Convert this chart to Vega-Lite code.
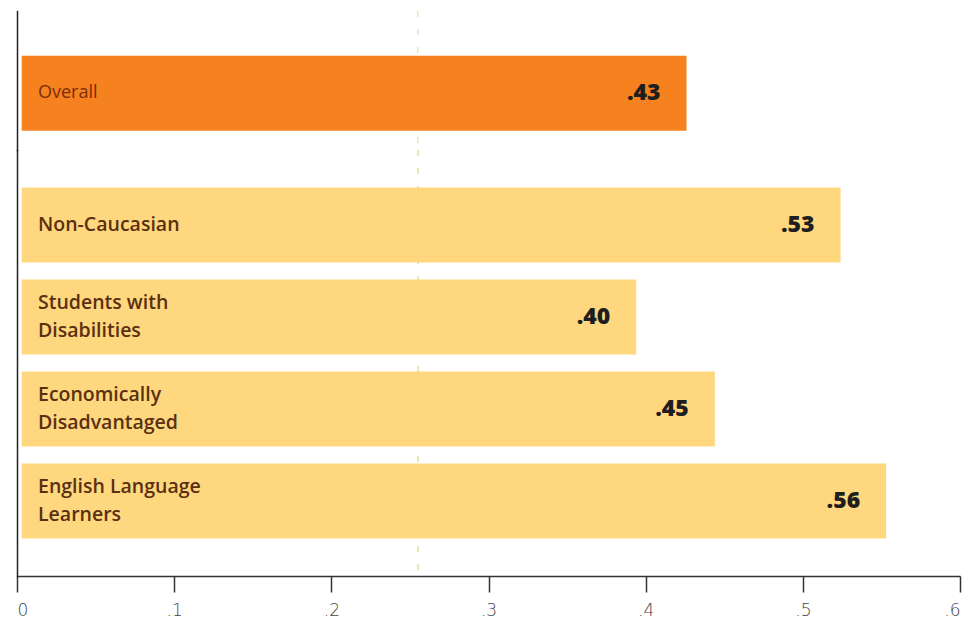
{
  "$schema": "https://vega.github.io/schema/vega-lite/v6.json",
  "padding": {"left": 16, "top": 10, "right": 5, "bottom": 0},
  "background": "white",
  "spacing": 0,
  "bounds": "flush",
  "config": {
    "view": {"stroke": null},
    "concat": {"spacing": 0}
  },
  "datasets": {
    "bars": [
      {"section": "top", "group": "Overall", "label": "Overall", "lines": 1, "value": 0.426, "text": ".43"},
      {"section": "bottom", "group": "Non-Caucasian", "label": "Non-Caucasian", "lines": 1, "value": 0.524, "text": ".53"},
      {"section": "bottom", "group": "Students with Disabilities", "label": "Students with\nDisabilities", "lines": 2, "value": 0.394, "text": ".40"},
      {"section": "bottom", "group": "Economically Disadvantaged", "label": "Economically\nDisadvantaged", "lines": 2, "value": 0.444, "text": ".45"},
      {"section": "bottom", "group": "English Language Learners", "label": "English Language\nLearners", "lines": 2, "value": 0.553, "text": ".56"}
    ]
  },
  "vconcat": [
    {
      "width": 943,
      "height": 139,
      "data": {"name": "bars"},
      "transform": [{"filter": "datum.section === 'top'"}],
      "layer": [
        {
          "mark": {"type": "rule", "color": "#e4ebb0", "strokeWidth": 1.5, "strokeDash": [6, 12]},
          "encoding": {"x": {"datum": 0.255, "type": "quantitative", "scale": {"domain": [0, 0.6], "nice": false}, "axis": null}}
        },
        {
          "mark": {"type": "bar", "color": "#f5811f"},
          "encoding": {
            "y": {"field": "group", "type": "nominal", "sort": null,
                  "scale": {"paddingInner": 0.185, "paddingOuter": 0.348, "align": 0.7},
                  "axis": {"title": null, "labels": false, "ticks": false, "domain": true, "domainColor": "#222", "domainWidth": 1.5, "domainCap": "square"}},
            "x": {"field": "value", "type": "quantitative", "scale": {"domain": [0, 0.6], "nice": false}, "axis": null},
            "x2": {"datum": 0.003}
          }
        },
        {
          "mark": {"type": "text", "align": "left", "baseline": "middle", "dx": 21, "font": "Open Sans", "fontSize": 18, "fontWeight": 400, "color": "#7a2e0c"},
          "encoding": {
            "y": {"field": "group", "type": "nominal", "sort": null},
            "x": {"datum": 0, "type": "quantitative"},
            "text": {"field": "label"}
          }
        },
        {
          "mark": {"type": "text", "align": "right", "baseline": "middle", "dx": -26, "font": "Open Sans", "fontSize": 23, "fontWeight": 800, "color": "#1e1e1e"},
          "encoding": {
            "y": {"field": "group", "type": "nominal", "sort": null},
            "x": {"field": "value", "type": "quantitative"},
            "text": {"field": "text"}
          }
        }
      ]
    },
    {
      "width": 943,
      "height": 426,
      "data": {"name": "bars"},
      "transform": [{"filter": "datum.section === 'bottom'"}],
      "layer": [
        {
          "mark": {"type": "rule", "color": "#e4ebb0", "strokeWidth": 1.5, "strokeDash": [6, 12]},
          "encoding": {"x": {"datum": 0.255, "type": "quantitative", "scale": {"domain": [0, 0.6], "nice": false},
            "axis": {"title": null, "values": [0, 0.1, 0.2, 0.3, 0.4, 0.5, 0.6], "labelExpr": "datum.value === 0 ? '0' : replace(format(datum.value, '.1f'), '0.', '.')",
                     "grid": false, "domainColor": "#333", "domainWidth": 1.5, "tickColor": "#333", "tickWidth": 1.5, "tickSize": 16,
                     "labelFont": "DejaVu Sans", "labelFontSize": 17, "labelColor": "#444", "labelPadding": 10, "labelFontWeight": 300}}}
        },
        {
          "mark": {"type": "bar", "color": "#fed77f"},
          "encoding": {
            "y": {"field": "group", "type": "nominal", "sort": null,
                  "scale": {"paddingInner": 0.185, "paddingOuter": 0.408},
                  "axis": {"title": null, "labels": false, "ticks": false, "domain": true, "domainColor": "#222", "domainWidth": 1.5, "domainCap": "square"}},
            "x": {"field": "value", "type": "quantitative"},
            "x2": {"datum": 0.003}
          }
        },
        {
          "transform": [{"filter": "datum.lines === 1"}],
          "mark": {"type": "text", "align": "left", "baseline": "middle", "dx": 21, "font": "Open Sans", "fontSize": 19.5, "fontWeight": 600, "color": "#5a3010"},
          "encoding": {
            "y": {"field": "group", "type": "nominal", "sort": null},
            "x": {"datum": 0, "type": "quantitative"},
            "text": {"field": "label"}
          }
        },
        {
          "transform": [{"filter": "datum.lines === 2"}],
          "mark": {"type": "text", "align": "left", "baseline": "middle", "dx": 21, "dy": -14, "font": "Open Sans", "fontSize": 19.5, "fontWeight": 600, "color": "#5a3010", "lineBreak": "\n", "lineHeight": 28},
          "encoding": {
            "y": {"field": "group", "type": "nominal", "sort": null},
            "x": {"datum": 0, "type": "quantitative"},
            "text": {"field": "label"}
          }
        },
        {
          "mark": {"type": "text", "align": "right", "baseline": "middle", "dx": -26, "font": "Open Sans", "fontSize": 23, "fontWeight": 800, "color": "#1e1e1e"},
          "encoding": {
            "y": {"field": "group", "type": "nominal", "sort": null},
            "x": {"field": "value", "type": "quantitative"},
            "text": {"field": "text"}
          }
        }
      ]
    }
  ]
}
